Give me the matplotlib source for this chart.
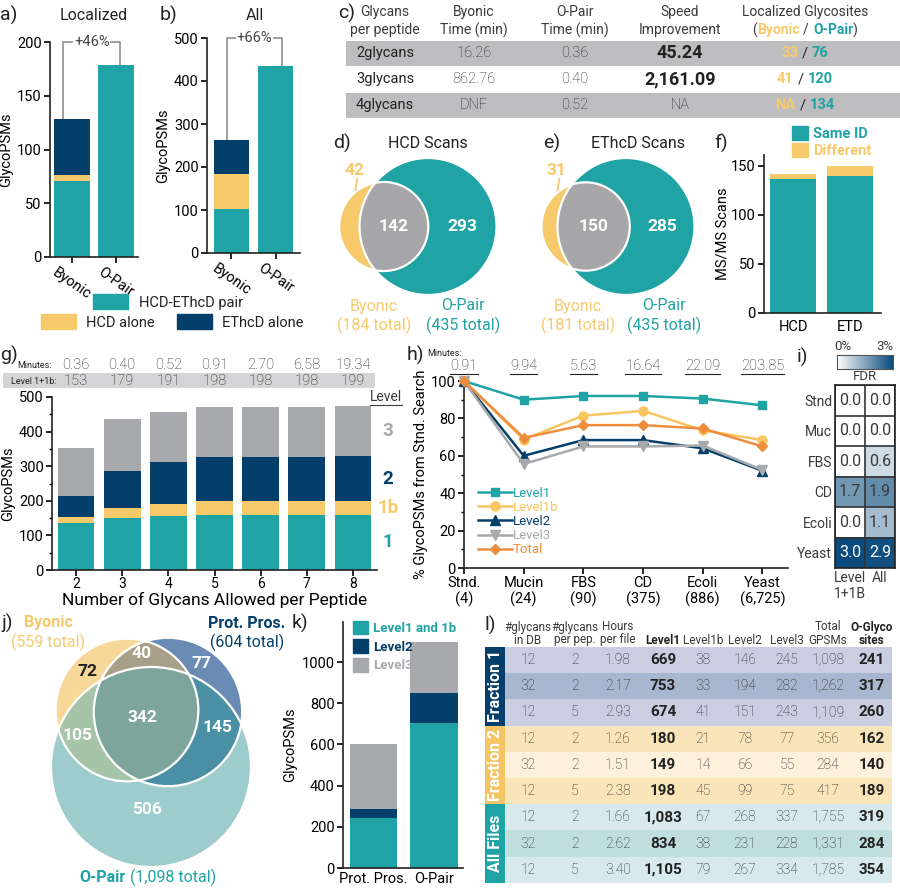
import numpy as np
import matplotlib
matplotlib.use("Agg")
import matplotlib.pyplot as plt
from matplotlib.patches import Rectangle, Circle, Patch, Polygon
from matplotlib.colors import LinearSegmentedColormap
from matplotlib.ticker import MultipleLocator

# ---------------- data ----------------
# a) / b)
ab_methods = ['Byonic', 'O-Pair']
loc_pair = [71, 179]
loc_hcd_alone = [5, 0]
loc_ethcd_alone = [52, 0]
all_pair = [103, 435]
all_hcd_alone = [81, 0]
all_ethcd_alone = [78, 0]

# c)
c_glycans = ['2glycans', '3glycans', '4glycans']
c_byonic_min = ['16.26', '862.76', 'DNF']
c_opair_min = ['0.36', '0.40', '0.52']
c_speedup = ['45.24', '2,161.09', 'NA']
c_sites_byonic = ['33', '41', 'NA']
c_sites_opair = ['76', '120', '134']

# d) / e)  byonic only, shared, o-pair only
hcd_venn = [42, 142, 293]
ethcd_venn = [31, 150, 285]

# f)
f_scans = ['HCD', 'ETD']
f_same = [137, 140]
f_diff = [5, 10]

# g)
g_nglycans = [2, 3, 4, 5, 6, 7, 8]
g_minutes = ['0.36', '0.40', '0.52', '0.91', '2.70', '6.58', '19.34']
g_level1 = [135, 150, 157, 159, 159, 159, 159]
g_level1b = [18, 29, 34, 39, 39, 39, 40]
g_level2 = [61, 108, 122, 128, 129, 130, 130]
g_level3 = [140, 148, 145, 144, 144, 144, 145]

# h)
h_samples = ['Stnd.\n(4)', 'Mucin\n(24)', 'FBS\n(90)', 'CD\n(375)', 'Ecoli\n(886)', 'Yeast\n(6,725)']
h_minutes = ['0.91', '9.94', '5.63', '16.64', '22.09', '203.85']
h_level1 = [100, 90, 92, 92, 90.6, 87]
h_level1b = [100, 68.7, 81.5, 84, 73.7, 68.4]
h_level2 = [100, 60, 68.4, 68.4, 64, 52]
h_level3 = [100, 55.6, 65, 65, 65.5, 52.4]
h_total = [100, 69.6, 76.4, 76.4, 74.6, 65]

# i)
i_rows = ['Stnd', 'Muc', 'FBS', 'CD', 'Ecoli', 'Yeast']
i_cols = ['Level\n1+1B', 'All']
i_fdr_l1 = [0.0, 0.0, 0.0, 1.7, 0.0, 3.0]
i_fdr_all = [0.0, 0.0, 0.6, 1.9, 1.1, 2.9]

# j)
j_sets = ['Byonic', 'Prot. Pros.', 'O-Pair']
j_totals = [559, 604, 1098]
j_only = [72, 77, 506]
j_byonic_prot = 40
j_byonic_opair = 105
j_prot_opair = 145
j_all = 342

# k)
k_tools = ['Prot. Pros.', 'O-Pair']
k_level1 = [243, 704]
k_level2 = [43, 146]
k_level3 = [318, 248]

# l)
l_groups = ['Fraction 1', 'Fraction 2', 'All Files']
l_db = ['12', '32', '12', '12', '32', '12', '12', '32', '12']
l_per_pep = ['2', '2', '5', '2', '2', '5', '2', '2', '5']
l_hours = ['1.98', '2.17', '2.93', '1.26', '1.51', '2.38', '1.66', '2.62', '3.40']
l_level1 = ['669', '753', '674', '180', '149', '198', '1,083', '834', '1,105']
l_level1b = ['38', '33', '41', '21', '14', '45', '67', '38', '79']
l_level2 = ['146', '194', '151', '78', '66', '99', '268', '231', '267']
l_level3 = ['245', '282', '243', '77', '55', '75', '337', '228', '334']
l_total = ['1,098', '1,262', '1,109', '356', '284', '417', '1,755', '1,331', '1,785']
l_sites = ['241', '317', '260', '162', '140', '189', '319', '284', '354']

# ---------------- style ----------------
TEAL = '#1fa3a4'
YELLOW = '#f6c96b'
NAVY = '#033f6a'
GRAY = '#a8a9ad'
ORANGE = '#ee8d3c'
LYELLOW = '#f8c660'
DARK = '#222222'
MID = '#3a3a3a'

plt.rcParams['font.family'] = ['Roboto', 'DejaVu Sans']
plt.rcParams.update({
    'font.size': 10.5, 'axes.linewidth': 1.2, 'axes.edgecolor': DARK,
    'xtick.major.width': 1.2, 'ytick.major.width': 1.2,
    'xtick.major.size': 4, 'ytick.major.size': 4,
    'xtick.minor.size': 2.5, 'ytick.minor.size': 2.5,
    'xtick.minor.width': 1, 'ytick.minor.width': 1,
    'xtick.major.pad': 2, 'ytick.major.pad': 2,
    'xtick.labelsize': 10.5, 'ytick.labelsize': 10.5,
    'axes.labelsize': 10.5, 'axes.labelpad': 3, 'text.color': DARK,
})

W, H = 900, 890
fig = plt.figure(figsize=(W / 100, H / 100), dpi=100)
renderer = fig.canvas.get_renderer()


def axes_px(x0, y0, x1, y1):
    return fig.add_axes([x0 / W, 1 - y1 / H, (x1 - x0) / W, (y1 - y0) / H])


# overlay in pixel coordinates (origin top-left) for tables, venns and text
top = axes_px(0, 0, W, H)
top.set_xlim(0, W)
top.set_ylim(H, 0)
top.axis('off')
top.set_zorder(10)
top.patch.set_visible(False)


def txt(x, y, s, size=10.5, **kw):
    kw.setdefault('ha', 'center')
    kw.setdefault('va', 'center')
    return top.text(x, y, s, fontsize=size, **kw)


def panel(x, y, s):
    txt(x, y, s, 14, ha='left')


def rich(x, y, parts, size):
    objs = [top.text(0, y, s, color=c, fontsize=size, fontweight=w, ha='left', va='center')
            for s, c, w, g in parts]
    widths = [o.get_window_extent(renderer).width for o in objs]
    gaps = [p[3] for p in parts]
    x0 = x - (sum(widths) + sum(gaps)) / 2
    for o, w, g in zip(objs, widths, gaps):
        o.set_x(x0)
        x0 += w + g


def underline(t, lw=0.8):
    bb = t.get_window_extent(renderer)
    y = H - bb.y0 + 1
    top.plot([bb.x0, bb.x1], [y, y], color=t.get_color(), lw=lw)


def to_px(ax, x, y):
    dx, dy = ax.transData.transform((x, y))
    return dx, H - dy


def clean(ax):
    ax.spines[['top', 'right']].set_visible(False)


def stacked(ax, x, layers, colors, width):
    bottom = np.zeros(len(x))
    for vals, c in zip(layers, colors):
        v = np.asarray(vals, float)
        ax.bar(x, v, width, bottom=bottom, color=c, edgecolor='none', zorder=2)
        bottom = bottom + v
    return bottom


def bracket(ax, tops, xs, ytop, label):
    ax.plot([xs[0], xs[0], xs[1], xs[1]], [tops[0], ytop, ytop, tops[1]],
            color='#8f8f8f', lw=1.2, clip_on=False, zorder=1)
    ax.text(np.mean(xs), ytop, label, ha='center', va='center', fontsize=10.5, color='#444',
            bbox=dict(fc='white', ec='none', pad=0.6), clip_on=False, zorder=3)


# ---------------- a) ----------------
ax_a = axes_px(50, 42, 138, 257)
xa = np.arange(len(ab_methods))
tops_a = stacked(ax_a, xa, [loc_pair, loc_hcd_alone, loc_ethcd_alone], [TEAL, YELLOW, NAVY], 0.8)
ax_a.set_xlim(-0.5, 1.5)
ax_a.set_ylim(0, 200)
ax_a.yaxis.set_major_locator(MultipleLocator(50))
ax_a.set_xticks(xa, ab_methods, rotation=-35, ha='center')
ax_a.set_ylabel('GlycoPSMs')
clean(ax_a)
bracket(ax_a, tops_a, [-0.2, 1.1], 200, '+46%')
panel(0, 15, 'a)')
txt(94, 15, 'Localized', 11.5)

# ---------------- b) ----------------
ax_b = axes_px(207, 38, 300, 253)
tops_b = stacked(ax_b, xa, [all_pair, all_hcd_alone, all_ethcd_alone], [TEAL, YELLOW, NAVY], 0.8)
ax_b.set_xlim(-0.55, 1.55)
ax_b.set_ylim(0, 500)
ax_b.yaxis.set_major_locator(MultipleLocator(100))
ax_b.set_xticks(xa, ab_methods, rotation=-35, ha='center')
ax_b.set_ylabel('GlycoPSMs')
clean(ax_b)
bracket(ax_b, tops_b, [-0.1, 1.14], 500, '+66%')
panel(160, 15, 'b)')
txt(255, 15, 'All', 11.5)

fig.legend(handles=[Patch(color=TEAL, label='HCD-EThcD pair')], loc='center',
           bbox_to_anchor=(168 / W, 1 - 302 / H), frameon=False, handlelength=2.4,
           handleheight=1.2, fontsize=10.5, handletextpad=0.7, borderpad=0)
fig.legend(handles=[Patch(color=YELLOW, label='HCD alone'), Patch(color=NAVY, label='EThcD alone')],
           loc='center', bbox_to_anchor=(172 / W, 1 - 322 / H), ncol=2, frameon=False,
           handlelength=2.4, handleheight=1.2, fontsize=10.5, handletextpad=0.7,
           columnspacing=1.5, borderpad=0)

# ---------------- c) table ----------------
panel(338, 13, 'c)')
c_x = [385, 474, 575, 680, 805]
c_rows_y = [53, 79, 105]
for i, y in enumerate(c_rows_y):
    if i % 2 == 0:
        top.add_patch(Rectangle((346, y - 12.5), W - 346, 25, color='#bdbdc0', lw=0))
c_heads = [('Glycans', 'per peptide'), ('Byonic', 'Time (min)'), ('O-Pair', 'Time (min)'),
           ('Speed', 'Improvement')]
for x, (h1, h2) in zip(c_x, c_heads):
    txt(x, 12, h1, 10, color=MID)
    txt(x, 30, h2, 10, color=MID)
txt(c_x[4], 12, 'Localized Glycosites', 10, color=MID)
rich(c_x[4], 30, [('(', MID, 'normal', 0), ('Byonic', YELLOW, 'bold', 4), ('/', MID, 'normal', 4),
                  ('O-Pair', TEAL, 'bold', 0), (')', MID, 'normal', 0)], 10)
for i, y in enumerate(c_rows_y):
    txt(c_x[0], y, c_glycans[i], 10.5)
    txt(c_x[1], y, c_byonic_min[i], 10.5, fontweight='light', color=DARK)
    txt(c_x[2], y, c_opair_min[i], 10.5, fontweight='light', color=DARK)
    if c_speedup[i] == 'NA':
        txt(c_x[3], y, c_speedup[i], 10.5, fontweight='light', color=DARK)
    else:
        txt(c_x[3], y, c_speedup[i], 13, fontweight='bold')
    rich(c_x[4], y, [(c_sites_byonic[i], YELLOW, 'bold', 4), ('/', DARK, 'normal', 4),
                     (c_sites_opair[i], TEAL, 'bold', 0)], 10.5)

# ---------------- d) / e) venns ----------------


def lens_area(r1, r2, d):
    if d >= r1 + r2:
        return 0.0
    if d <= abs(r1 - r2):
        return np.pi * min(r1, r2) ** 2
    a = r1 ** 2 * np.arccos((d * d + r1 * r1 - r2 * r2) / (2 * d * r1))
    b = r2 ** 2 * np.arccos((d * d + r2 * r2 - r1 * r1) / (2 * d * r2))
    c = 0.5 * np.sqrt((-d + r1 + r2) * (d + r1 - r2) * (d - r1 + r2) * (d + r1 + r2))
    return a + b - c


def solve_d(r1, r2, target):
    lo, hi = abs(r1 - r2), r1 + r2
    for _ in range(60):
        mid = (lo + hi) / 2
        if lens_area(r1, r2, mid) > target:
            lo = mid
        else:
            hi = mid
    return (lo + hi) / 2


k_venn = 68.5 / np.sqrt(435)


def venn2(cx, cy, counts, title, tx, lab, lx):
    n_b = counts[0] + counts[1]
    n_o = counts[1] + counts[2]
    r_o = k_venn * np.sqrt(n_o)
    r_b = k_venn * np.sqrt(n_b)
    d = solve_d(r_o, r_b, np.pi * k_venn ** 2 * counts[1])
    xb = cx - d
    top.add_patch(Circle((xb, cy), r_b, fc=YELLOW, ec='none'))
    top.add_patch(Circle((cx, cy), r_o, fc=TEAL, ec='none'))
    inter = Circle((xb, cy), r_b, fc='#a7a7aa', ec='none')
    top.add_patch(inter)
    inter.set_clip_path(Circle((cx, cy), r_o, transform=top.transData))
    for (x0, r) in [(xb, r_b), (cx, r_o)]:
        top.add_patch(Circle((x0, cy), r, fill=False, ec='white', lw=1.6))
    txt(((cx - r_o) + (xb + r_b)) / 2, cy, str(counts[1]), 12.5, color='white', fontweight='bold')
    txt(((xb + r_b) + (cx + r_o)) / 2, cy, str(counts[2]), 12.5, color='white', fontweight='bold')
    ang = np.deg2rad(128)
    px, py = xb + r_b * np.cos(ang), cy - r_b * np.sin(ang)
    txt(px - 2, py - 21, str(counts[0]), 12.5, color=YELLOW, fontweight='bold')
    top.plot([px + 1, px - 1], [py - 13, py - 1], color=YELLOW, lw=1.3)
    txt(tx, 143, title, 11.5)
    panel(lab[0], 143, lab[1])
    txt(lx[0], 306, 'Byonic', 11.5, color=YELLOW)
    txt(lx[0], 325, f'({n_b} total)', 11.5, color=YELLOW)
    txt(lx[1], 306, 'O-Pair', 11.5, color=TEAL)
    txt(lx[1], 325, f'({n_o} total)', 11.5, color=TEAL)


venn2(428, 226.5, hcd_venn, 'HCD Scans', 428, (333, 'd)'), (374, 463))
venn2(626, 226.5, ethcd_venn, 'EThcD Scans', 638, (543, 'e)'), (578, 664))

# ---------------- f) ----------------
ax_f = axes_px(764, 155, 881, 313)
xf = np.arange(len(f_scans))
stacked(ax_f, xf, [f_same, f_diff], [TEAL, YELLOW], 0.81)
ax_f.set_xlim(-0.51, 1.54)
ax_f.set_ylim(0, 161)
ax_f.yaxis.set_major_locator(MultipleLocator(50))
ax_f.set_xticks(xf, f_scans)
ax_f.tick_params(axis='x', length=0, pad=5)
ax_f.set_ylabel('MS/MS Scans', labelpad=1)
clean(ax_f)
panel(714, 143, 'f)')
fig.legend(handles=[Patch(color=TEAL, label='Same ID'), Patch(color=YELLOW, label='Different')],
           loc='center left', bbox_to_anchor=(785 / W, 1 - 142 / H), frameon=False,
           handlelength=1.1, handleheight=1.1, labelspacing=0.1, handletextpad=0.3, borderpad=0,
           prop={'weight': 'bold', 'size': 10.5}, labelcolor=[TEAL, YELLOW])

# ---------------- g) ----------------
ax_g = axes_px(52, 397, 377, 570)
g_layers = [g_level1, g_level1b, g_level2, g_level3]
g_colors = [TEAL, YELLOW, NAVY, GRAY]
stacked(ax_g, g_nglycans, g_layers, g_colors, 0.8)
ax_g.set_xlim(1.48, 8.52)
ax_g.set_ylim(0, 500)
ax_g.yaxis.set_major_locator(MultipleLocator(100))
ax_g.yaxis.set_minor_locator(MultipleLocator(50))
ax_g.set_xticks(g_nglycans)
ax_g.tick_params(axis='x', pad=1, labelsize=10)
ax_g.set_xlabel('Number of Glycans Allowed per Peptide', fontsize=12.5, labelpad=1)
ax_g.set_ylabel('GlycoPSMs')
clean(ax_g)
panel(0, 355, 'g)')
top.add_patch(Rectangle((3, 373), 372, 15, color='#d4d4d6', lw=0))
txt(34, 366, 'Minutes:', 6.5)
txt(34, 381, 'Level 1+1b:', 6.5)
g_l1_sum = [a + b for a, b in zip(g_level1, g_level1b)]
for n, m, s in zip(g_nglycans, g_minutes, g_l1_sum):
    xpx = to_px(ax_g, n, 0)[0]
    txt(xpx, 365, m, 10.5, fontweight='light', color=DARK)
    txt(xpx, 381, str(s), 10.5, fontweight='light', color=DARK)
underline(txt(386, 397, 'Level', 10, color=MID))
last = np.array([v[-1] for v in g_layers], float)
cum = np.concatenate([[0], np.cumsum(last)])
for mid, lab, c in zip((cum[:-1] + cum[1:]) / 2, ['1', '1b', '2', '3'], g_colors):
    txt(388, to_px(ax_g, 8, mid)[1], lab, 13.5, color=c, fontweight='bold')

# ---------------- h) ----------------
ax_h = axes_px(464, 381, 788, 568)
xh = np.arange(len(h_samples))
h_series = [(h_level1, TEAL, 's', 6, 'Level1'), (h_level1b, LYELLOW, 'o', 6.5, 'Level1b'),
            (h_level2, NAVY, '^', 6.5, 'Level2'), (h_level3, GRAY, 'v', 6.5, 'Level3'),
            (h_total, ORANGE, 'D', 5.5, 'Total')]
for vals, c, m, ms, lab in h_series:
    ax_h.plot(xh, vals, color=c, marker=m, ms=ms, lw=1.8, label=lab, clip_on=False, zorder=3)
ax_h.set_xlim(0, 5.43)
ax_h.set_ylim(0, 100)
ax_h.yaxis.set_major_locator(MultipleLocator(20))
ax_h.yaxis.set_minor_locator(MultipleLocator(10))
ax_h.set_xticks(xh, h_samples, linespacing=1.15)
ax_h.set_ylabel('% GlycoPSMs from Stnd. Search', labelpad=2)
clean(ax_h)
ax_h.legend(loc='upper left', bbox_to_anchor=(478 / W, 1 - 487 / H), bbox_transform=fig.transFigure,
            frameon=False, handlelength=2.6, handletextpad=0.05, labelspacing=0.08, borderpad=0,
            borderaxespad=0, fontsize=9.5, labelcolor='linecolor')
panel(407, 355, 'h)')
txt(444, 353, 'Minutes:', 6.5)
for xi, m in zip(xh, h_minutes):
    underline(txt(to_px(ax_h, xi, 0)[0], 366, m, 10.5, fontweight='light', color=DARK))

# ---------------- i) ----------------
ax_i = axes_px(835, 385, 895, 568)
fdr = np.array([i_fdr_l1, i_fdr_all]).T
cmap = LinearSegmentedColormap.from_list('fdr', ['#ffffff', '#0a4a7c'])
ax_i.imshow(fdr, cmap=cmap, vmin=0, vmax=3, aspect='auto')
for r in range(fdr.shape[0]):
    for c in range(fdr.shape[1]):
        ax_i.text(c, r, f'{fdr[r, c]:.1f}', ha='center', va='center', fontsize=11.5,
                  color='white' if fdr[r, c] > 2.4 else MID)
ax_i.set_xticks(np.arange(-0.5, 2, 1), minor=True)
ax_i.set_yticks(np.arange(-0.5, 6, 1), minor=True)
ax_i.grid(which='minor', color='#333', lw=1.2)
ax_i.set_xticks(range(2), i_cols, fontsize=10, color=MID, multialignment='left')
ax_i.set_yticks(range(6), i_rows, fontsize=10, color=MID)
ax_i.tick_params(which='both', length=0, pad=2)
for s in ax_i.spines.values():
    s.set_linewidth(1.2)
cax = axes_px(837, 355, 893, 369)
cax.imshow(np.linspace(0, 1, 256)[None, :], cmap=cmap, aspect='auto')
cax.set_xticks([])
cax.set_yticks([])
for s in cax.spines.values():
    s.set_linewidth(0.8)
    s.set_color('#555')
txt(843, 346, '0%', 9.5, color=MID)
txt(885, 346, '3%', 9.5, color=MID)
txt(865, 377, 'FDR', 9.5, color=MID)
panel(797, 357, 'i)')

# ---------------- j) ----------------


def circle_poly(c, r, n=240):
    t = np.linspace(0, 2 * np.pi, n, endpoint=False)
    return np.column_stack([c[0] + r * np.cos(t), c[1] + r * np.sin(t)])


def clip_poly(subject, clipper):
    # Sutherland-Hodgman, both convex and counter-clockwise
    out = [tuple(p) for p in subject]
    m = len(clipper)
    for i in range(m):
        a, b = clipper[i], clipper[(i + 1) % m]
        inp, out = out, []
        if not inp:
            break

        def inside(p):
            return (b[0] - a[0]) * (p[1] - a[1]) - (b[1] - a[1]) * (p[0] - a[0]) >= 0

        def cross_pt(p, q):
            den = (p[0] - q[0]) * (a[1] - b[1]) - (p[1] - q[1]) * (a[0] - b[0])
            t = ((p[0] - a[0]) * (a[1] - b[1]) - (p[1] - a[1]) * (a[0] - b[0])) / den
            return (p[0] + t * (q[0] - p[0]), p[1] + t * (q[1] - p[1]))

        s = inp[-1]
        for e in inp:
            if inside(e):
                if not inside(s):
                    out.append(cross_pt(s, e))
                out.append(e)
            elif inside(s):
                out.append(cross_pt(s, e))
            s = e
    return np.array(out)


kj = 100 / np.sqrt(j_totals[2])
j_r = [kj * np.sqrt(t) for t in j_totals]
j_centers = [(127, 710), (168, 712), (151, 767)]
polys = [circle_poly(c, r) for c, r in zip(j_centers, j_r)]
c_b, c_p, c_o = '#f8d898', '#6a8bb3', '#9ecbcb'
for poly, col in [(polys[2], c_o), (polys[0], c_b), (polys[1], c_p)]:
    top.add_patch(Polygon(poly, closed=True, fc=col, ec='none'))
pair_regions = [((0, 1), '#a89f88'), ((0, 2), '#a6c4a7'), ((1, 2), '#4b8fa5')]
for (i, j), col in pair_regions:
    top.add_patch(Polygon(clip_poly(polys[i], polys[j]), closed=True, fc=col, ec='none'))
triple = clip_poly(clip_poly(polys[0], polys[1]), polys[2])
top.add_patch(Polygon(triple, closed=True, fc='#7ea59b', ec='none'))
for (cx, cy), r in zip(j_centers, j_r):
    top.add_patch(Circle((cx, cy), r, fill=False, ec='white', lw=1.6))
j_labels = [(87, 672, j_only[0], DARK), (202, 663, j_only[1], 'white'), (147, 810, j_only[2], 'white'),
            (142, 653, j_byonic_prot, 'white'), (78, 735, j_byonic_opair, 'white'),
            (218, 728, j_prot_opair, 'white'), (142, 718, j_all, 'white')]
for x, y, n, c in j_labels:
    txt(x, y, str(n), 12.5, color=c, fontweight='bold')
panel(2, 623, 'j)')
txt(48, 623, j_sets[0], 11.5, color=YELLOW, fontweight='bold')
txt(48, 642, f'({j_totals[0]} total)', 11.5, color=YELLOW)
txt(247, 623, j_sets[1], 11.5, color=NAVY, fontweight='bold')
txt(247, 642, f'({j_totals[1]} total)', 11.5, color=NAVY)
rich(148, 877, [(j_sets[2], TEAL, 'bold', 4), (f'({j_totals[2]:,} total)', TEAL, 'normal', 0)], 11.5)

# ---------------- k) ----------------
ax_k = axes_px(343, 622, 463, 868)
xk = np.arange(len(k_tools))
stacked(ax_k, xk, [k_level1, k_level2, k_level3], [TEAL, NAVY, GRAY], 0.78)
ax_k.set_xlim(-0.5, 1.48)
ax_k.set_ylim(0, 1195)
ax_k.yaxis.set_major_locator(MultipleLocator(200))
ax_k.set_xticks(xk, k_tools)
ax_k.tick_params(axis='x', length=0, pad=3)
ax_k.set_ylabel('GlycoPSMs')
clean(ax_k)
panel(292, 623, 'k)')
fig.legend(handles=[Patch(color=TEAL, label='Level1 and 1b'), Patch(color=NAVY, label='Level2'),
                    Patch(color=GRAY, label='Level3')],
           loc='upper left', bbox_to_anchor=(346 / W, 1 - 614 / H), frameon=False,
           handlelength=1.2, handleheight=1.2, labelspacing=0.35, handletextpad=0.35, borderpad=0,
           prop={'weight': 'bold', 'size': 9.5}, labelcolor=[TEAL, NAVY, GRAY])

# ---------------- l) table ----------------
panel(484, 625, 'l)')
l_x = [528, 575, 618, 663, 703, 745, 787, 828, 872]
l_heads = [('#glycans', 'in DB'), ('#glycans', 'per pep.'), ('Hours', 'per file'), ('', 'Level1'),
           ('', 'Level1b'), ('', 'Level2'), ('', 'Level3'), ('Total', 'GPSMs'), ('O-Glyco', 'sites')]
bold_cols = {3, 8}
for j, (x, (h1, h2)) in enumerate(zip(l_x, l_heads)):
    w = 'bold' if j in bold_cols else 'normal'
    c = DARK if j in bold_cols else MID
    txt(x, 627, h1, 8.5, fontweight=w, color=c)
    txt(x, 640, h2, 8.5, fontweight=w, color=c)
row_h = 26.2
y0 = 647
band_cols = [NAVY, '#f5c463', TEAL]
row_cols = [['#c9cfe1', '#a9b6cf', '#c9cfe1'], ['#fae4b9', '#fdf1dc', '#fae4b9'],
            ['#d7e9ea', '#c1dedf', '#d7e9ea']]
l_cells = [l_db, l_per_pep, l_hours, l_level1, l_level1b, l_level2, l_level3, l_total, l_sites]
for g, name in enumerate(l_groups):
    gy = y0 + g * 3 * row_h
    top.add_patch(Rectangle((485, gy), 20, 3 * row_h, color=band_cols[g], lw=0))
    txt(495, gy + 1.5 * row_h, name, 11.5, color='white', fontweight='bold', rotation=90)
    for r in range(3):
        top.add_patch(Rectangle((505, gy + r * row_h), 387, row_h, color=row_cols[g][r], lw=0))
for i in range(len(l_db)):
    y = y0 + (i + 0.5) * row_h
    for j, col in enumerate(l_cells):
        if j in bold_cols:
            txt(l_x[j], y, col[i], 11, fontweight='bold')
        else:
            txt(l_x[j], y, col[i], 10, fontweight='light', color=DARK)

fig.savefig('out.png', dpi=100)
